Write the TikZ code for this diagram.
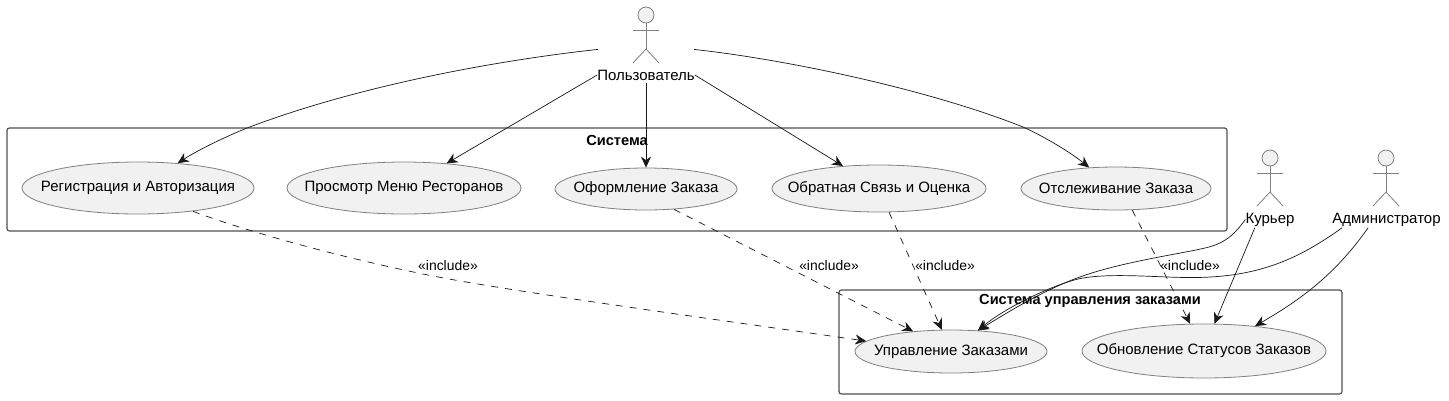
\documentclass[tikz,border=0pt]{standalone}
\usepackage{fontspec}
\setmainfont{Liberation Sans}
\usetikzlibrary{arrows.meta,shapes.geometric}
\definecolor{ink}{HTML}{181818}
\definecolor{fillc}{HTML}{F1F1F1}
\definecolor{soft}{HTML}{808080}
\definecolor{frc}{HTML}{505050}
\newcommand{\uct}[1]{\raisebox{-0.8pt}{\makebox[0pt]{#1}}}
\tikzset{
  uc/.style={ellipse,draw=soft,fill=fillc,line width=0.8pt,inner sep=0pt,minimum height=#1,font=\fontsize{15}{17}\selectfont},
  frm/.style={draw=frc,line width=1.2pt,rounded corners=2.5pt},
  ttl/.style={font=\fontsize{14.6}{16}\selectfont\bfseries,inner sep=0pt},
  lbl/.style={font=\fontsize{15}{17}\selectfont,inner sep=0pt,minimum height=16pt},
  inc/.style={font=\fontsize{13.9}{15}\selectfont,inner sep=0pt},
  act/.style={draw=soft,line width=0.8pt},
  abox/.style={inner sep=0pt,minimum width=#1,minimum height=81pt},
  ar/.style={draw=ink,line width=0.7pt,-{Stealth[length=11pt,width=10pt,inset=3.5pt]}},
  das/.style={ar,dash pattern=on 7pt off 7pt},
}
\begin{document}
\begin{tikzpicture}[x=1pt,y=-1pt]
\useasboundingbox (0,0) rectangle (1449,400);
\fill[white] (0,0) rectangle (1449,400);
% frames
\draw[frm] (7,128) rectangle (1227,231);
\draw[frm] (839,290) rectangle (1342,394);
\node[ttl] (t1) at (617,140) {Система};
\node[ttl] (t2) at (1090,301) {Система управления заказами};
% use cases
\node[uc=52pt,minimum width=232pt] (reg) at (138,188) {\uct{Регистрация и Авторизация}};
\node[uc=52pt,minimum width=234pt] (menu) at (404,188) {\uct{Просмотр Меню Ресторанов}};
\node[uc=42pt,minimum width=182pt] (order) at (646,189) {\uct{Оформление Заказа}};
\node[uc=47pt,minimum width=214pt] (fb) at (879,188.5) {\uct{Обратная Связь и Оценка}};
\node[uc=43pt,minimum width=190pt] (track) at (1116,188.5) {\uct{Отслеживание Заказа}};
\node[uc=43pt,minimum width=192pt] (manage) at (951,351.5) {\uct{Управление Заказами}};
\node[uc=54pt,minimum width=244pt] (status) at (1204,351) {\uct{Обновление Статусов Заказов}};
% actors
\newcommand{\actorfig}[2]{%
  \draw[act,fill=fillc] (#1,#2) circle (8);
  \draw[act] (#1,#2+8) -- (#1,#2+34);
  \draw[act] (#1-13,#2+15) -- (#1+13,#2+15);
  \draw[act] (#1-13,#2+48) -- (#1,#2+34) -- (#1+13,#2+48);
}
\actorfig{646}{15}
\actorfig{1270}{158}
\actorfig{1386}{158}
\node[abox=96pt] (user) at (646,43.5) {};
\node[lbl] (userl) at (646,75) {Пользователь};
\node[lbl] (kurl) at (1270,219.5) {Курьер};
\node[lbl] (adml) at (1386.5,219.5) {Администратор};
% user edges
\draw[ar] (user.187.7) .. controls (500,60) and (360,85) .. (247,128) .. controls (225,137) and (198,150) .. (reg.32);
\draw[ar] (userl.west) -- (menu.30.7);
\draw[ar] (userl.south) -- (order.90);
\draw[ar] (userl.east) -- (fb.148.5);
\draw[ar] (user.-7.7) .. controls (790,60) and (930,90) .. (1023,127) .. controls (1045,137) and (1070,152) .. (track.142.7);
% include edges
\draw[das] (reg.-23) .. controls (240,229) and (330,255) .. (423,274) .. controls (500,290) and (720,320) .. (manage.173.6);
\draw[das] (order.-36) -- (manage.152.6);
\draw[das] (fb.-67) -- (manage.113);
\draw[das] (track.-53) -- (status.117.6);
\node[inc] (i1) at (448,266) {«include»};
\node[inc] (i2) at (829,266) {«include»};
\node[inc] (i3) at (945,266) {«include»};
\node[inc] (i4) at (1190,266) {«include»};
% courier / admin edges
\draw[ar] (kurl.west) .. controls (1232,238) and (1222,244) .. (1205,248) .. controls (1180,254) and (1120,262) .. (1077,278) .. controls (1040,292) and (1005,314) .. (manage.38.5);
\draw[ar] ([xshift=9.5pt]kurl.south west) -- (status.69.7);
\draw[ar] ([xshift=10pt]adml.south west) .. controls (1300,258) and (1260,277) .. (1195,277.5) .. controls (1160,278) and (1110,272) .. (1078,279) .. controls (1050,286) and (1005,308) .. (manage.38.5);
\draw[ar] ([xshift=36pt]adml.south west) .. controls (1335,275) and (1300,300) .. (status.26);
\end{tikzpicture}
\end{document}
